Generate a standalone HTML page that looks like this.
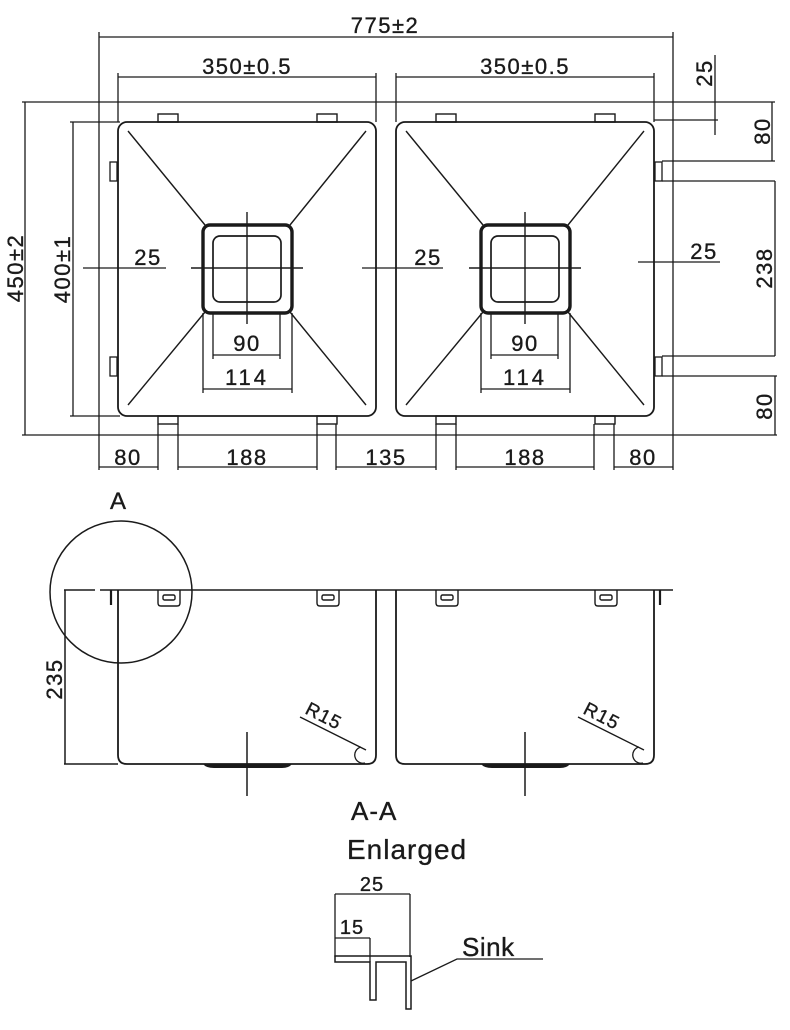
<!DOCTYPE html>
<html><head><meta charset="utf-8"><style>
html,body{margin:0;padding:0;background:#fff;}
svg{display:block;}
text{font-family:"Liberation Sans",sans-serif;fill:#1a1a1a;stroke:#1a1a1a;stroke-width:0.35;}
</style></head><body>
<svg width="790" height="1030" viewBox="0 0 790 1030" xmlns="http://www.w3.org/2000/svg">
<defs>
<g id="bowl">
  <rect x="0" y="0" width="258" height="294" rx="9" fill="none" stroke="#1a1a1a" stroke-width="1.8"/>
  <line x1="10" y1="9" x2="87" y2="103" stroke="#1a1a1a" stroke-width="1.4"/>
  <line x1="248" y1="9" x2="172" y2="103" stroke="#1a1a1a" stroke-width="1.4"/>
  <line x1="87" y1="190" x2="10" y2="283" stroke="#1a1a1a" stroke-width="1.4"/>
  <line x1="172" y1="190" x2="248" y2="283" stroke="#1a1a1a" stroke-width="1.4"/>
  <rect x="85" y="103" width="89" height="88" rx="7" fill="none" stroke="#1a1a1a" stroke-width="3.4"/>
  <rect x="95" y="114" width="68" height="66" rx="7" fill="none" stroke="#1a1a1a" stroke-width="1.7"/>
  <line x1="129" y1="90" x2="129" y2="202" stroke="#1a1a1a" stroke-width="1.4"/>
  <line x1="73" y1="146" x2="185" y2="146" stroke="#1a1a1a" stroke-width="1.4"/>
  <g stroke="#1a1a1a" stroke-width="1.3" fill="none">
    <line x1="95" y1="190" x2="95" y2="237"/><line x1="162" y1="190" x2="162" y2="237"/>
    <line x1="95" y1="233" x2="162" y2="233"/>
    <line x1="85" y1="191" x2="85" y2="271"/><line x1="174" y1="191" x2="174" y2="271"/>
    <line x1="85" y1="267" x2="174" y2="267"/>
  </g>
  <text x="129" y="229" font-size="22" text-anchor="middle" letter-spacing="1.5">90</text>
  <text x="129" y="263" font-size="22" text-anchor="middle" letter-spacing="3">114</text>
  <g fill="none" stroke="#1a1a1a" stroke-width="1.4">
    <rect x="40" y="-8" width="20" height="8"/><rect x="199" y="-8" width="20" height="8"/>
    <rect x="40" y="294" width="20" height="8"/><rect x="199" y="294" width="20" height="8"/>
  </g>
</g>
<g id="sec">
  <path d="M0 0 V165 Q0 174 9 174 H249 Q258 174 258 165 V0" fill="none" stroke="#1a1a1a" stroke-width="1.8"/>
  <g fill="none" stroke="#1a1a1a" stroke-width="1.4">
    <path d="M40 0 V13 Q40 16 43 16 H59 Q62 16 62 13 V0"/><rect x="45" y="5" width="12" height="5" rx="1.5"/>
    <path d="M199 0 V13 Q199 16 202 16 H218 Q221 16 221 13 V0"/><rect x="204" y="5" width="12" height="5" rx="1.5"/>
  </g>
  <path d="M85 174 Q88 178 96 178 H164 Q171 178 174 174 Z" fill="#1a1a1a"/>
  <line x1="129" y1="142" x2="129" y2="206" stroke="#1a1a1a" stroke-width="1.5"/>
  <line x1="182" y1="127" x2="248" y2="160" stroke="#1a1a1a" stroke-width="1.4"/>
  <path d="M243 157 A8 8 0 0 0 247 173" fill="none" stroke="#1a1a1a" stroke-width="1.3"/>
  <text x="0" y="0" font-size="19" letter-spacing="1" transform="translate(186 123) rotate(27)">R15</text>
</g>
</defs>

<g stroke="#1a1a1a" stroke-width="1.3" fill="none">
  <line x1="99" y1="37" x2="673" y2="37"/>
  <line x1="99" y1="32" x2="99" y2="470"/>
  <line x1="673" y1="32" x2="673" y2="470"/>
  <line x1="22" y1="102" x2="775" y2="102"/>
  <line x1="22" y1="435" x2="777" y2="435"/>
  <line x1="25" y1="102" x2="25" y2="435"/>
  <line x1="70" y1="122" x2="120" y2="122"/>
  <line x1="70" y1="416" x2="120" y2="416"/>
  <line x1="73" y1="122" x2="73" y2="416"/>
  <line x1="118" y1="77" x2="376" y2="77"/>
  <line x1="118" y1="73" x2="118" y2="122"/><line x1="376" y1="73" x2="376" y2="122"/>
  <line x1="396" y1="77" x2="654" y2="77"/>
  <line x1="396" y1="73" x2="396" y2="122"/><line x1="654" y1="73" x2="654" y2="122"/>
  <rect x="110" y="162" width="7" height="19"/><rect x="110" y="357" width="7" height="19"/>
  <rect x="655" y="162" width="7" height="19"/><rect x="655" y="357" width="7" height="19"/>
  <line x1="83" y1="268" x2="166" y2="268"/>
  <line x1="362" y1="268" x2="443" y2="268"/>
  <line x1="638" y1="262" x2="720" y2="262"/>
  <line x1="715" y1="55" x2="715" y2="135"/>
  <line x1="654" y1="120" x2="718" y2="120"/>
  <line x1="662" y1="161" x2="775" y2="161"/>
  <line x1="662" y1="181" x2="775" y2="181"/>
  <line x1="662" y1="356" x2="775" y2="356"/>
  <line x1="662" y1="376" x2="777" y2="376"/>
  <line x1="772" y1="102" x2="772" y2="161"/>
  <line x1="775" y1="181" x2="775" y2="356"/>
  <line x1="775" y1="376" x2="775" y2="435"/>
  <line x1="158" y1="424" x2="158" y2="470"/><line x1="178" y1="424" x2="178" y2="470"/>
  <line x1="317" y1="424" x2="317" y2="470"/><line x1="336" y1="424" x2="336" y2="470"/>
  <line x1="436" y1="424" x2="436" y2="470"/><line x1="456" y1="424" x2="456" y2="470"/>
  <line x1="594" y1="424" x2="594" y2="470"/><line x1="614" y1="424" x2="614" y2="470"/>
  <line x1="99" y1="467" x2="158" y2="467"/>
  <line x1="178" y1="467" x2="317" y2="467"/>
  <line x1="336" y1="467" x2="436" y2="467"/>
  <line x1="456" y1="467" x2="594" y2="467"/>
  <line x1="614" y1="467" x2="673" y2="467"/>
</g>
<use href="#bowl" x="118" y="122"/>
<use href="#bowl" x="396" y="122"/>

<g font-size="22" letter-spacing="1.5">
  <text x="385" y="33" text-anchor="middle">775±2</text>
  <text x="247" y="74" text-anchor="middle">350±0.5</text>
  <text x="525" y="74" text-anchor="middle">350±0.5</text>
  <text x="148" y="265" text-anchor="middle">25</text>
  <text x="428" y="265" text-anchor="middle">25</text>
  <text x="704" y="259" text-anchor="middle">25</text>
  <text x="128" y="465" text-anchor="middle">80</text>
  <text x="247" y="465" text-anchor="middle">188</text>
  <text x="386" y="465" text-anchor="middle">135</text>
  <text x="525" y="465" text-anchor="middle">188</text>
  <text x="643" y="465" text-anchor="middle">80</text>
  <text transform="translate(23 268) rotate(-90)" text-anchor="middle">450±2</text>
  <text transform="translate(70 269) rotate(-90)" text-anchor="middle">400±1</text>
  <text transform="translate(712 73) rotate(-90)" text-anchor="middle">25</text>
  <text transform="translate(770 131) rotate(-90)" text-anchor="middle">80</text>
  <text transform="translate(772 268) rotate(-90)" text-anchor="middle">238</text>
  <text transform="translate(772 406) rotate(-90)" text-anchor="middle">80</text>
</g>

<g stroke="#1a1a1a" stroke-width="1.5" fill="none">
  <line x1="64" y1="590" x2="95" y2="590"/>
  <line x1="100" y1="590" x2="673" y2="590"/>
  <line x1="65" y1="590" x2="65" y2="764"/>
  <line x1="64" y1="764" x2="118" y2="764"/>
  <line x1="111" y1="590" x2="111" y2="605" stroke-width="2.2"/>
  <line x1="660" y1="590" x2="660" y2="605" stroke-width="2.2"/>
  <circle cx="121" cy="592" r="71"/>
</g>
<use href="#sec" x="118" y="590"/>
<use href="#sec" x="396" y="590"/>
<text x="118" y="509" font-size="24" text-anchor="middle">A</text>
<text transform="translate(62 679) rotate(-90)" font-size="22" letter-spacing="1.5" text-anchor="middle">235</text>
<text x="351" y="820" font-size="26" letter-spacing="1">A-A</text>
<text x="347" y="859" font-size="28" letter-spacing="1">Enlarged</text>

<g stroke="#1a1a1a" stroke-width="1.3" fill="none">
  <line x1="335" y1="894" x2="410" y2="894"/>
  <line x1="335" y1="894" x2="335" y2="957"/>
  <line x1="410" y1="894" x2="410" y2="957"/>
  <line x1="335" y1="938" x2="370" y2="938"/>
  <line x1="370" y1="938" x2="370" y2="962"/>
  <path d="M335 956 H411 V1009 H406 V962 H376 V1000 H370 V962 H335 Z" stroke-width="1.5"/>
  <polyline points="411,981 457,959 543,959"/>
</g>
<text x="372" y="891" font-size="20" letter-spacing="1" text-anchor="middle">25</text>
<text x="352" y="934" font-size="20" letter-spacing="1" text-anchor="middle">15</text>
<text x="462" y="956" font-size="26" letter-spacing="0.5">Sink</text>
</svg>
</body></html>
